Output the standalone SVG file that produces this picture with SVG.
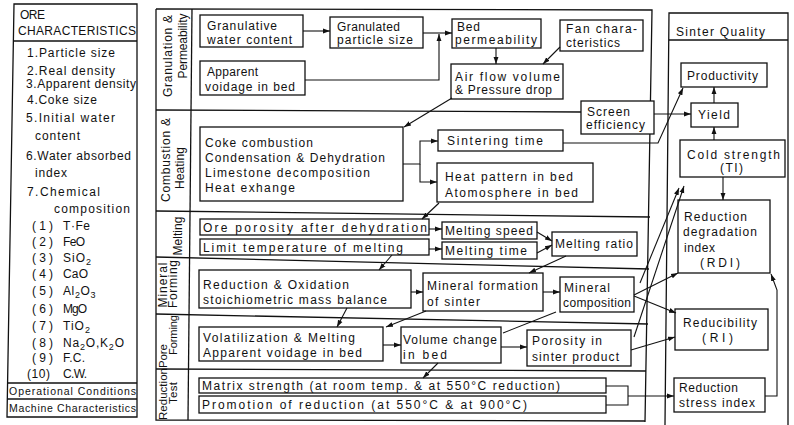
<svg xmlns="http://www.w3.org/2000/svg" width="794" height="425" viewBox="0 0 794 425">
<style>
text{font-family:"Liberation Sans",Arial,sans-serif;font-size:12px;fill:#111}
.box{fill:#fff;stroke:#111;stroke-width:1.3}
.fr{fill:none;stroke:#111;stroke-width:1.3}
.c{fill:none;stroke:#111;stroke-width:1.1}
.a{marker-end:url(#ah)}
.sm{font-size:10.5px}
.sub{font-size:9px}
.v{text-anchor:middle}
</style>
<defs>
<marker id="ah" viewBox="0 0 10 10" refX="10" refY="5" markerWidth="7" markerHeight="7" markerUnits="userSpaceOnUse" orient="auto"><path d="M0,1.5 L10,5 L0,8.5 z" fill="#111"/></marker>
</defs>
<rect width="794" height="425" fill="#fff"/>

<g id="frames">
<path class="fr" d="M14,4 L137,4 L137,417 L7,417 Z"/>
<line class="fr" x1="13.4" y1="41" x2="137" y2="41"/>
<line class="fr" x1="7.4" y1="383" x2="137" y2="383"/>
<line class="fr" x1="7.2" y1="399" x2="137" y2="399"/>
<path class="fr" d="M156,9 L652,10 L645,422 M156,9 L156,420 L645,421"/>
<line class="fr" x1="192" y1="9" x2="188" y2="420"/>
<line class="fr" x1="156" y1="110" x2="581" y2="112"/>
<line class="fr" x1="156" y1="211" x2="650" y2="217"/>
<line class="fr" x1="156" y1="257" x2="649" y2="269"/>
<line class="fr" x1="156" y1="314" x2="648" y2="324"/>
<line class="fr" x1="156" y1="369" x2="646" y2="371"/>
<path class="fr" d="M665,425 L669,13 L788,13 L788,425"/>
<line class="fr" x1="669" y1="40" x2="788" y2="40"/>
</g>

<g id="ore-characteristics">
<text x="20" y="19" textLength="25">ORE</text>
<text x="18" y="35" textLength="118">CHARACTERISTICS</text>
<text x="27" y="56.5" textLength="88">1.Particle size</text>
<text x="27" y="74.5" textLength="88">2.Real density</text>
<text x="26" y="87.5" textLength="110">3.Apparent density</text>
<text x="27" y="104" textLength="70">4.Coke size</text>
<text x="26" y="122" textLength="89">5.Initial water</text>
<text x="35" y="140" textLength="45">content</text>
<text x="26" y="159.5" textLength="105">6.Water absorbed</text>
<text x="35" y="177" textLength="32">index</text>
<text x="27" y="196" textLength="73">7.Chemical</text>
<text x="54" y="212.5" textLength="76">composition</text>
<text x="32" y="229.5" textLength="21">(1)</text><text x="63" y="229.5" textLength="27">T·Fe</text>
<text x="32" y="245.5" textLength="21">(2)</text><text x="63" y="245.5" textLength="22">FeO</text>
<text x="32" y="261.5" textLength="21">(3)</text><text x="63" y="261.5" style="letter-spacing:1px">SiO<tspan class="sub" dy="3">2</tspan></text>
<text x="32" y="278" textLength="21">(4)</text><text x="63" y="278" textLength="25">CaO</text>
<text x="32" y="294.5" textLength="21">(5)</text><text x="63" y="294.5" style="letter-spacing:0.6px">Al<tspan class="sub" dy="3">2</tspan><tspan dy="-3">O</tspan><tspan class="sub" dy="3">3</tspan></text>
<text x="32" y="312.5" textLength="21">(6)</text><text x="63" y="312.5" textLength="24">MgO</text>
<text x="32" y="329.5" textLength="21">(7)</text><text x="63" y="329.5" style="letter-spacing:1px">TiO<tspan class="sub" dy="3">2</tspan></text>
<text x="32" y="346.5" textLength="21">(8)</text><text x="63" y="346.5" style="letter-spacing:0.8px">Na<tspan class="sub" dy="3">2</tspan><tspan dy="-3">O,K</tspan><tspan class="sub" dy="3">2</tspan><tspan dy="-3">O</tspan></text>
<text x="32" y="361.5" textLength="21">(9)</text><text x="63" y="361.5" textLength="22">F.C.</text>
<text x="27" y="377.5" textLength="23">(10)</text><text x="63" y="377.5" textLength="24">C.W.</text>
</g>
<g id="operational-conditions"><text class="sm" x="9" y="394.5" textLength="127">Operational Conditions</text></g>
<g id="machine-characteristics"><text class="sm" x="9" y="412" textLength="127">Machine Characteristics</text></g>

<g id="section-labels">
<text class="v" transform="translate(172,56) rotate(-90)" textLength="82">Granulation &amp;</text>
<text class="v" transform="translate(187,46) rotate(-90)" textLength="65">Permeability</text>
<text class="v" transform="translate(170,160) rotate(-90)" textLength="84">Combustion &amp;</text>
<text class="v" transform="translate(184,168) rotate(-90)" textLength="42">Heating</text>
<text class="v" transform="translate(182,236) rotate(-90)" textLength="39">Melting</text>
<text class="v" transform="translate(167,285) rotate(-90)" textLength="45">Mineral</text>
<text class="v" transform="translate(177,284) rotate(-90)" textLength="48">Forming</text>
<text class="v" transform="translate(167,356) rotate(-90)" style="font-size:11.5px" textLength="24">Pore</text>
<text class="v" transform="translate(177,335) rotate(-90)" style="font-size:11px" textLength="40">Forming</text>
<text class="v" transform="translate(167,394) rotate(-90)" style="font-size:11.5px" textLength="52">Reduction</text>
<text class="v" transform="translate(177,393) rotate(-90)" style="font-size:11.5px" textLength="22">Test</text>
</g>

<g id="granulative-water-content"><rect class="box" x="200" y="15" width="103" height="32"/><text x="207" y="30" textLength="70">Granulative</text><text x="207" y="44" textLength="85">water content</text></g>
<g id="granulated-particle-size"><rect class="box" x="330" y="17" width="93" height="31"/><text x="337" y="31" textLength="63">Granulated</text><text x="337" y="44" textLength="76">particle size</text></g>
<g id="apparent-voidage-in-bed"><rect class="box" x="200" y="61" width="105" height="34"/><text x="207" y="76" textLength="51">Apparent</text><text x="205" y="91" textLength="90">voidage in bed</text></g>
<g id="bed-permeability"><rect class="box" x="452" y="19" width="89" height="29"/><text x="457" y="31" textLength="23">Bed</text><text x="455" y="44" textLength="82">permeability</text></g>
<g id="fan-characteristics"><rect class="box" x="560" y="20" width="83" height="31"/><text x="566" y="33" textLength="71">Fan chara-</text><text x="566" y="47" textLength="54">cteristics</text></g>
<g id="air-flow-volume"><rect class="box" x="451" y="64" width="112" height="35"/><text x="455" y="81" textLength="105">Air flow volume</text><text x="455" y="94" textLength="97">&amp; Pressure drop</text></g>
<g id="screen-efficiency"><rect class="box" x="581" y="101" width="73" height="33"/><text x="587" y="116" textLength="43">Screen</text><text x="586" y="129" textLength="59">efficiency</text></g>

<g id="combustion-heating"><rect class="box" x="200" y="127" width="203" height="74"/>
<text x="205" y="146.5" textLength="108">Coke combustion</text>
<text x="205" y="162" textLength="180">Condensation &amp; Dehydration</text>
<text x="205" y="177" textLength="165">Limestone decomposition</text>
<text x="205" y="192" textLength="90">Heat exhange</text></g>
<g id="sintering-time"><rect class="box" x="438" y="130" width="125" height="21"/><text x="447" y="145" textLength="96">Sintering time</text></g>
<g id="heat-pattern"><rect class="box" x="437" y="163" width="156" height="39"/><text x="445" y="181" textLength="128">Heat pattern in bed</text><text x="445" y="197" textLength="133">Atomosphere in bed</text></g>

<g id="ore-porosity"><rect class="box" x="200" y="219" width="229" height="16"/><text x="203" y="232" textLength="224">Ore porosity after dehydration</text></g>
<g id="limit-temperature"><rect class="box" x="200" y="239" width="229" height="16"/><text x="203" y="252" textLength="200">Limit temperature of melting</text></g>
<g id="melting-speed"><rect class="box" x="442" y="222" width="95" height="17"/><text x="445" y="235" textLength="88">Melting speed</text></g>
<g id="melting-time"><rect class="box" x="442" y="242" width="95" height="17"/><text x="445" y="255" textLength="82">Melting time</text></g>
<g id="melting-ratio"><rect class="box" x="552" y="232" width="85" height="24"/><text x="555" y="248" textLength="78">Melting ratio</text></g>

<g id="reduction-oxidation"><rect class="box" x="199" y="270" width="212" height="38"/><text x="203" y="289" textLength="146">Reduction &amp; Oxidation</text><text x="203" y="304" textLength="184">stoichiometric mass balance</text></g>
<g id="mineral-formation"><rect class="box" x="423" y="273" width="120" height="38"/><text x="427" y="290" textLength="111">Mineral formation</text><text x="427" y="306" textLength="53">of sinter</text></g>
<g id="mineral-composition"><rect class="box" x="560" y="277" width="74" height="35"/><text x="564" y="292" textLength="46">Mineral</text><text x="563" y="307" textLength="68">composition</text></g>

<g id="volatilization-melting"><rect class="box" x="199" y="327" width="184" height="34"/><text x="203" y="342" textLength="152">Volatilization &amp; Melting</text><text x="203" y="357" textLength="159">Apparent voidage in bed</text></g>
<g id="volume-change"><rect class="box" x="401" y="327" width="100" height="36"/><text x="403" y="344" textLength="94">Volume change</text><text x="403" y="359" textLength="44">in bed</text></g>
<g id="porosity-in-sinter"><rect class="box" x="527" y="330" width="104" height="36"/><text x="532" y="345" textLength="70">Porosity in</text><text x="532" y="361" textLength="87">sinter product</text></g>

<g id="matrix-strength"><rect class="box" x="199" y="378" width="407" height="15"/><text x="202" y="390" textLength="358">Matrix strength (at room temp. &amp; at 550°C reduction)</text></g>
<g id="promotion-of-reduction"><rect class="box" x="199" y="396" width="407" height="17"/><text x="202" y="409" textLength="325">Promotion of reduction (at 550°C &amp; at 900°C)</text></g>

<g id="sinter-quality"><text x="676" y="36" textLength="89">Sinter Quality</text></g>
<g id="productivity"><rect class="box" x="681" y="63" width="86" height="24"/><text x="687" y="80" textLength="71">Productivity</text></g>
<g id="yield"><rect class="box" x="691" y="103" width="47" height="24"/><text x="698" y="119" textLength="32">Yield</text></g>
<g id="cold-strength"><rect class="box" x="680" y="140" width="105" height="37"/><text x="687" y="159" textLength="93">Cold strength</text><text x="720" y="172" textLength="23">(TI)</text></g>
<g id="rdi"><rect class="box" x="678" y="200" width="92" height="73"/><text x="684" y="221" textLength="63">Reduction</text><text x="683" y="236" textLength="74">degradation</text><text x="684" y="252" textLength="31">index</text><text x="700" y="267" textLength="40">(RDI)</text></g>
<g id="reducibility"><rect class="box" x="675" y="309" width="93" height="41"/><text x="683" y="327" textLength="74">Reducibility</text><text x="702" y="342" textLength="31">(RI)</text></g>
<g id="reduction-stress-index"><rect class="box" x="674" y="378" width="91" height="34"/><text x="679" y="392" textLength="59">Reduction</text><text x="679" y="407" textLength="76">stress index</text></g>

<g id="connectors">
<line class="c a" x1="303" y1="31" x2="330" y2="31"/>
<line class="c a" x1="423" y1="33" x2="452" y2="33"/>
<polyline class="c a" points="305,80 439,80 439,34"/>
<line class="c a" x1="496" y1="48" x2="496" y2="64"/>
<line class="c a" x1="560" y1="47" x2="543" y2="64"/>
<line class="c a" x1="452" y1="98" x2="404" y2="127"/>
<line class="c a" x1="654" y1="114" x2="691" y2="114"/>
<polyline class="c a" points="403,164 420,164 420,141 438,141"/>
<polyline class="c a" points="420,164 420,182 437,182"/>
<polyline class="c a" points="563,143 658,143 683,88"/>
<line class="c a" x1="439" y1="203" x2="422" y2="219"/>
<line class="c a" x1="429" y1="229" x2="442" y2="229"/>
<line class="c a" x1="429" y1="249" x2="442" y2="249"/>
<line class="c a" x1="537" y1="232" x2="552" y2="241"/>
<line class="c a" x1="537" y1="253" x2="552" y2="245"/>
<line class="c a" x1="392" y1="255" x2="379" y2="270"/>
<line class="c a" x1="566" y1="256" x2="529" y2="273"/>
<line class="c a" x1="411" y1="292" x2="423" y2="292"/>
<line class="c a" x1="543" y1="292" x2="560" y2="292"/>
<line class="c a" x1="426" y1="311" x2="386" y2="327"/>
<line class="c a" x1="347" y1="308" x2="337" y2="327"/>
<line class="c a" x1="383" y1="345" x2="401" y2="345"/>
<line class="c a" x1="501" y1="347" x2="527" y2="347"/>
<line class="c" x1="503" y1="333" x2="556" y2="312"/>
<line class="c a" x1="438" y1="363" x2="423" y2="378"/>
<polyline class="c" points="606,386 628,386 628,405 606,405"/>
<line class="c a" x1="628" y1="396" x2="674" y2="396"/>
<line class="c a" x1="634" y1="295" x2="678" y2="273"/>
<line class="c a" x1="634" y1="296" x2="676" y2="313"/>
<line class="c a" x1="631" y1="350" x2="675" y2="337"/>
<line class="c a" x1="640" y1="283" x2="679" y2="188"/>
<line class="c a" x1="634" y1="337" x2="684" y2="186"/>
<polyline class="c a" points="765,396 777,396 777,290 771,274"/>
<line class="c a" x1="714" y1="103" x2="714" y2="87"/>
<line class="c a" x1="714" y1="140" x2="714" y2="127"/>
<line class="c a" x1="723" y1="177" x2="723" y2="200"/>
</g>
</svg>
